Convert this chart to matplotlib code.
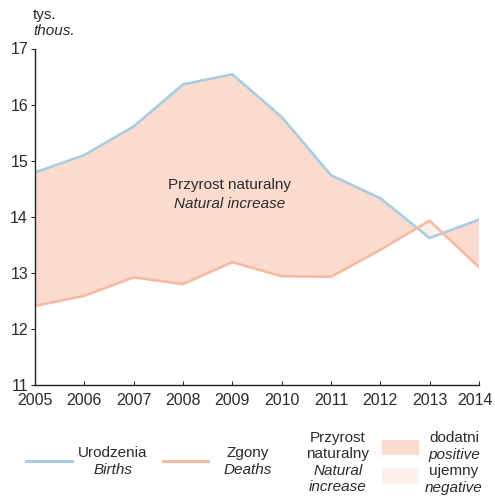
import numpy as np
import matplotlib.pyplot as plt
import matplotlib.transforms as mtrans
from matplotlib.patches import Rectangle

plt.rcParams['font.family'] = ['Liberation Sans', 'DejaVu Sans']

years = [2005, 2006, 2007, 2008, 2009, 2010, 2011, 2012, 2013, 2014]
births = [14.79, 15.10, 15.61, 16.36, 16.54, 15.78, 14.74, 14.33, 13.62, 13.95]
deaths = [12.41, 12.59, 12.92, 12.80, 13.19, 12.94, 12.93, 13.41, 13.93, 13.10]
yticks = [11, 12, 13, 14, 15, 16, 17]

c_births = '#a9cde0'
c_deaths = '#f8b9a1'
c_pos = '#fbdbce'
c_neg = '#fbf0eb'
c_text = '#2b2b2b'
fs = 11

x = np.array(years)
b = np.array(births)
d = np.array(deaths)

fig = plt.figure(figsize=(4.95, 5.01), dpi=100)
ax = fig.add_axes([35/495, 1-385/501, 444/495, 336.5/501])

ax.fill_between(x, d, b, where=b >= d, interpolate=True, color=c_pos, lw=0)
ax.fill_between(x, d, b, where=b < d, interpolate=True, color=c_neg, lw=0)
ax.plot(x, b, color=c_births, lw=1.9, solid_joinstyle='miter')
ax.plot(x, d, color=c_deaths, lw=1.9, solid_joinstyle='miter')

ax.set_xlim(2005, 2014)
ax.set_ylim(11, 17)
ax.set_xticks(years)
ax.set_yticks(yticks)
for s in ['top', 'right']:
    ax.spines[s].set_visible(False)
for s in ['left', 'bottom']:
    ax.spines[s].set_linewidth(1.0)
    ax.spines[s].set_color('#222222')
ax.tick_params(axis='x', direction='in', length=3, pad=6, labelsize=fs + 0.5, colors=c_text)
ax.tick_params(axis='y', direction='out', length=3, pad=2, labelsize=fs + 0.5, colors=c_text)
# 2014 troche w lewo, zeby sie miescil
lab = ax.get_xticklabels()[-1]
lab.set_transform(lab.get_transform() + mtrans.ScaledTranslation(-4/100, 0, fig.dpi_scale_trans))

ax.text(2008.95, 14.57, 'Przyrost naturalny', ha='center', va='center', fontsize=fs, color=c_text)
ax.text(2008.95, 14.23, 'Natural increase', ha='center', va='center', fontsize=fs,
        style='italic', color=c_text)

fig.text(33/495, 1-15/501, 'tys.', ha='left', va='center', fontsize=fs, color=c_text)
fig.text(33/495, 1-31/501, 'thous.', ha='left', va='center', fontsize=fs,
         style='italic', color=c_text)

# legenda
lg = fig.add_axes([0, 0, 1, 120/501])
lg.set_xlim(0, 495)
lg.set_ylim(501, 381)
lg.axis('off')
lg.plot([26, 72], [461, 461], color=c_births, lw=2.2)
lg.plot([163, 208], [461, 461], color=c_deaths, lw=2.2)
lg.text(113, 453, 'Urodzenia', ha='center', va='center', fontsize=fs, color=c_text)
lg.text(113, 470, 'Births', ha='center', va='center', fontsize=fs, style='italic', color=c_text)
lg.text(248, 453, 'Zgony', ha='center', va='center', fontsize=fs, color=c_text)
lg.text(248, 470, 'Deaths', ha='center', va='center', fontsize=fs, style='italic', color=c_text)
lg.text(338, 438, 'Przyrost', ha='center', va='center', fontsize=fs, color=c_text)
lg.text(338, 454, 'naturalny', ha='center', va='center', fontsize=fs, color=c_text)
lg.text(338, 471, 'Natural', ha='center', va='center', fontsize=fs, style='italic', color=c_text)
lg.text(338, 487, 'increase', ha='center', va='center', fontsize=fs, style='italic', color=c_text)
lg.add_patch(Rectangle((382, 440), 37, 15, color=c_pos, lw=0))
lg.add_patch(Rectangle((382, 468), 37, 16, color=c_neg, lw=0))
lg.text(454, 438, 'dodatni', ha='center', va='center', fontsize=fs, color=c_text)
lg.text(454, 455, 'positive', ha='center', va='center', fontsize=fs, style='italic', color=c_text)
lg.text(454, 471, 'ujemny', ha='center', va='center', fontsize=fs, color=c_text)
lg.text(454, 488, 'negative', ha='center', va='center', fontsize=fs, style='italic', color=c_text)

fig.savefig('out.png', dpi=100)
